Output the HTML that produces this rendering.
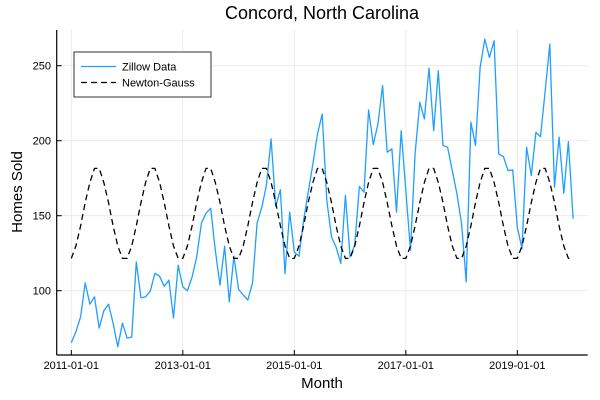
<!DOCTYPE html>
<html><head><meta charset="utf-8"><style>
html,body{margin:0;padding:0;background:#fff;}
svg{display:block;font-family:"Liberation Sans","DejaVu Sans",sans-serif;}
</style></head><body>
<svg id="chart" width="600" height="400" viewBox="0 0 600 400" xmlns="http://www.w3.org/2000/svg">
<rect width="600" height="400" fill="#fff"/>
<g id="grid"></g>
<g id="series"></g>
<line x1="56.7" y1="30" x2="56.7" y2="355" stroke="#000" stroke-width="1.2"/>
<line x1="56.7" y1="355" x2="587.7" y2="355" stroke="#000" stroke-width="1.2"/>
<g id="ticks"></g>
<text x="322" y="19" font-size="18" text-anchor="middle">Concord, North Carolina</text>
<text x="322" y="388" font-size="15" text-anchor="middle">Month</text>
<text x="22" y="192" font-size="15" text-anchor="middle" transform="rotate(-90 22 192)">Homes Sold</text>
<g>
<rect x="74" y="52" width="137" height="45" fill="#fff" stroke="#000" stroke-width="0.8"/>
<line x1="81" y1="66.5" x2="116" y2="66.5" stroke="#1f9fff" stroke-width="1.3"/>
<text x="122" y="70.5" font-size="11">Zillow Data</text>
<line x1="81" y1="82.5" x2="116" y2="82.5" stroke="#000" stroke-width="1.3" stroke-dasharray="6,4"/>
<text x="122" y="86.5" font-size="11">Newton-Gauss</text>
</g>
</svg>
<script>
const zillow = [65.3,72.6,82.6,105.2,91,95.9,75.1,86.6,91,78.4,62.6,78.4,
68.4,69.1,119.2,95.2,95.9,99.7,111.6,109.6,103,107,81.7,117,
102.5,99.9,109.2,122.5,144.9,151.7,154.9,126.9,103.7,129.6,92.6,122.9,
100.8,97.2,93.7,105.2,145.1,155.7,170.2,201.2,156.2,167.3,111.4,152.4,
125.8,122.9,146.9,165.7,184.6,204.5,217.8,160.2,135.8,129.1,118.3,163.5,
122.5,130.3,169.5,165.7,220.5,197.4,211.2,236.7,192.3,194.6,152.4,206.7,
166.8,126.9,191.4,225.6,214.5,248.4,206.7,246.6,196.8,195.6,180.1,164.6,
144.7,105.9,212.3,196.8,248.8,267.7,255.5,266.6,191.2,189.4,180.1,180.6,
142.4,128,195.6,176.8,205.6,202.7,233.3,264.4,169,202.3,165,199.4,148];
const newton = [121.5,129.8,143.2,158.8,172.2,181.5,181.5,172.2,158.8,143.2,129.8,121.5,
121.5,129.8,143.2,158.8,172.2,181.5,181.5,172.2,158.8,143.2,129.8,121.5,
121.5,129.8,143.2,158.8,172.2,181.5,181.5,172.2,158.8,143.2,129.8,121.5,
121.5,129.8,143.2,158.8,172.2,181.5,181.5,172.2,158.8,143.2,129.8,121.5,
121.5,129.8,143.2,158.8,172.2,181.5,181.5,172.2,158.8,143.2,129.8,121.5,
121.5,129.8,143.2,158.8,172.2,181.5,181.5,172.2,158.8,143.2,129.8,121.5,
121.5,129.8,143.2,158.8,172.2,181.5,181.5,172.2,158.8,143.2,129.8,121.5,
121.5,129.8,143.2,158.8,172.2,181.5,181.5,172.2,158.8,143.2,129.8,121.5,
121.5,129.8,143.2,158.8,172.2,181.5,181.5,172.2,158.8,143.2,129.8,121.5,121.5];
const xTickMonths = [0,24,48,72,96];
const xTickLabels = ["2011-01-01","2013-01-01","2015-01-01","2017-01-01","2019-01-01"];
const yTicks = [100,150,200,250];

const NS = "http://www.w3.org/2000/svg";
function xs(i){ return 71.3 + i*4.646; }
function ys(v){ return 290.7 - (v-100)*1.5; }
function mk(tag, attrs, parent){
  const el = document.createElementNS(NS, tag);
  for (const k in attrs) el.setAttribute(k, attrs[k]);
  parent.appendChild(el); return el;
}
const grid = document.getElementById('grid');
const ticks = document.getElementById('ticks');
const series = document.getElementById('series');

xTickMonths.forEach((m,i)=>{
  const x = xs(m);
  const g = mk('line',{x1:x,y1:30,x2:x,y2:355,stroke:'#e8e8e8','stroke-width':0.8},grid);
  
  
  const t = mk('line',{x1:x,y1:355,x2:x,y2:350,stroke:'#000','stroke-width':1},ticks);
  
  
  const l = mk('text',{x:x,y:369,'font-size':11,'text-anchor':'middle'},ticks);
  l.textContent = xTickLabels[i];
  
  
});
yTicks.forEach(v=>{
  const y = ys(v);
  const g = mk('line',{x1:56.7,y1:y,x2:587.7,y2:y,stroke:'#e8e8e8','stroke-width':0.8},grid);
  
  
  const t = mk('line',{x1:56.7,y1:y,x2:61.7,y2:y,stroke:'#000','stroke-width':1},ticks);
  
  
  const l = mk('text',{x:51,y:y+4,'font-size':11,'text-anchor':'end'},ticks);
  l.textContent = String(v);
  
  
});
const zp = mk('polyline',{points:zillow.map((v,i)=>xs(i).toFixed(1)+','+ys(v).toFixed(1)).join(' '),fill:'none',stroke:'#1f9fff','stroke-width':1.3,'stroke-linejoin':'round'},series);


const np = mk('polyline',{points:newton.map((v,i)=>xs(i).toFixed(1)+','+ys(v).toFixed(1)).join(' '),fill:'none',stroke:'#000','stroke-width':1.3,'stroke-dasharray':'6,4','stroke-linejoin':'round'},series);


</script>
</body></html>
